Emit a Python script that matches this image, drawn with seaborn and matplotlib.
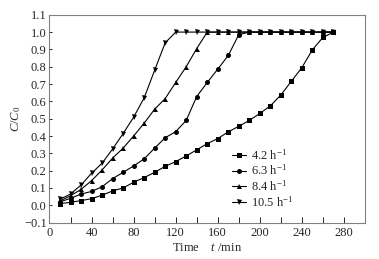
import numpy as np
import pandas as pd
import seaborn as sns
import matplotlib.pyplot as plt
from matplotlib.ticker import MultipleLocator

time = list(range(10, 280, 10))
labels = ["4.2 h$^{-1}$", "6.3 h$^{-1}$", "8.4 h$^{-1}$", "10.5 h$^{-1}$"]

c_42 = [0.01, 0.017, 0.027, 0.038, 0.058, 0.083, 0.10, 0.133, 0.16, 0.19,
        0.225, 0.252, 0.285, 0.32, 0.356, 0.385, 0.424, 0.456, 0.49, 0.53,
        0.574, 0.637, 0.716, 0.795, 0.898, 0.969, 1.0]
c_63 = [0.02, 0.04, 0.065, 0.08, 0.107, 0.154, 0.19, 0.227, 0.268, 0.33,
        0.39, 0.425, 0.49, 0.628, 0.709, 0.786, 0.865, 0.985, 1.0, 1.0,
        1.0, 1.0, 1.0, 1.0, 1.0, 1.0, 1.0]
c_84 = [0.025, 0.055, 0.092, 0.142, 0.204, 0.272, 0.33, 0.40, 0.474, 0.555,
        0.616, 0.709, 0.80, 0.905, 1.0, 1.0, 1.0, 1.0, 1.0, 1.0,
        1.0, 1.0, 1.0, 1.0, 1.0, 1.0, 1.0]
c_105 = [0.035, 0.065, 0.117, 0.185, 0.243, 0.325, 0.414, 0.509, 0.62, 0.78,
         0.938, 1.0, 1.0, 1.0, 1.0, 1.0, 1.0, 1.0, 1.0, 1.0,
         1.0, 1.0, 1.0, 1.0, 1.0, 1.0, 1.0]

df = pd.DataFrame({
    "t": time * 4,
    "c": c_42 + c_63 + c_84 + c_105,
    "rate": [l for l in labels for _ in time],
})

sns.set_style("ticks")
plt.rcParams["font.family"] = ["Liberation Serif", "DejaVu Serif"]
plt.rcParams["mathtext.fontset"] = "custom"
plt.rcParams["mathtext.rm"] = "Liberation Serif"
plt.rcParams["mathtext.it"] = "Liberation Serif:italic"

fig = plt.figure(figsize=(3.79, 2.59), dpi=100)
ax = fig.add_axes([0.1306, 0.1405, 0.8324, 0.8025])

sns.lineplot(data=df, x="t", y="c", hue="rate", style="rate",
             palette=["black"] * 4, markers=["s", "o", "^", "v"], dashes=False,
             markersize=3.6, linewidth=0.8, markeredgewidth=0, ax=ax)

ax.set_xlim(0, 300)
ax.set_ylim(-0.1, 1.1)
ax.xaxis.set_minor_locator(MultipleLocator(20))
ax.set_xticks([0, 40, 80, 120, 160, 200, 240, 280])
ax.yaxis.set_major_locator(MultipleLocator(0.1))
ax.set_yticklabels([f"{v:.1f}".replace("-", "\u2212") for v in ax.get_yticks()])
ax.tick_params(axis="x", which="both", direction="in", length=4, width=0.7,
               labelsize=9, pad=3)
ax.tick_params(axis="y", which="major", direction="in", length=2, width=0.7,
               labelsize=9, pad=2)
for s in ax.spines.values():
    s.set_color("#808080")
    s.set_linewidth(0.8)

ax.set_xlabel("Time    $t$ /min", fontsize=9, labelpad=2)
ax.set_ylabel("$C$/$C_0$", fontsize=9, labelpad=1)

ax.legend(loc="lower right", bbox_to_anchor=(0.8, 0.02), frameon=False,
          fontsize=9, handlelength=1.1, handletextpad=0.4,
          labelspacing=0.1, borderpad=0.2, title=None)

fig.savefig("out.png", dpi=100)
